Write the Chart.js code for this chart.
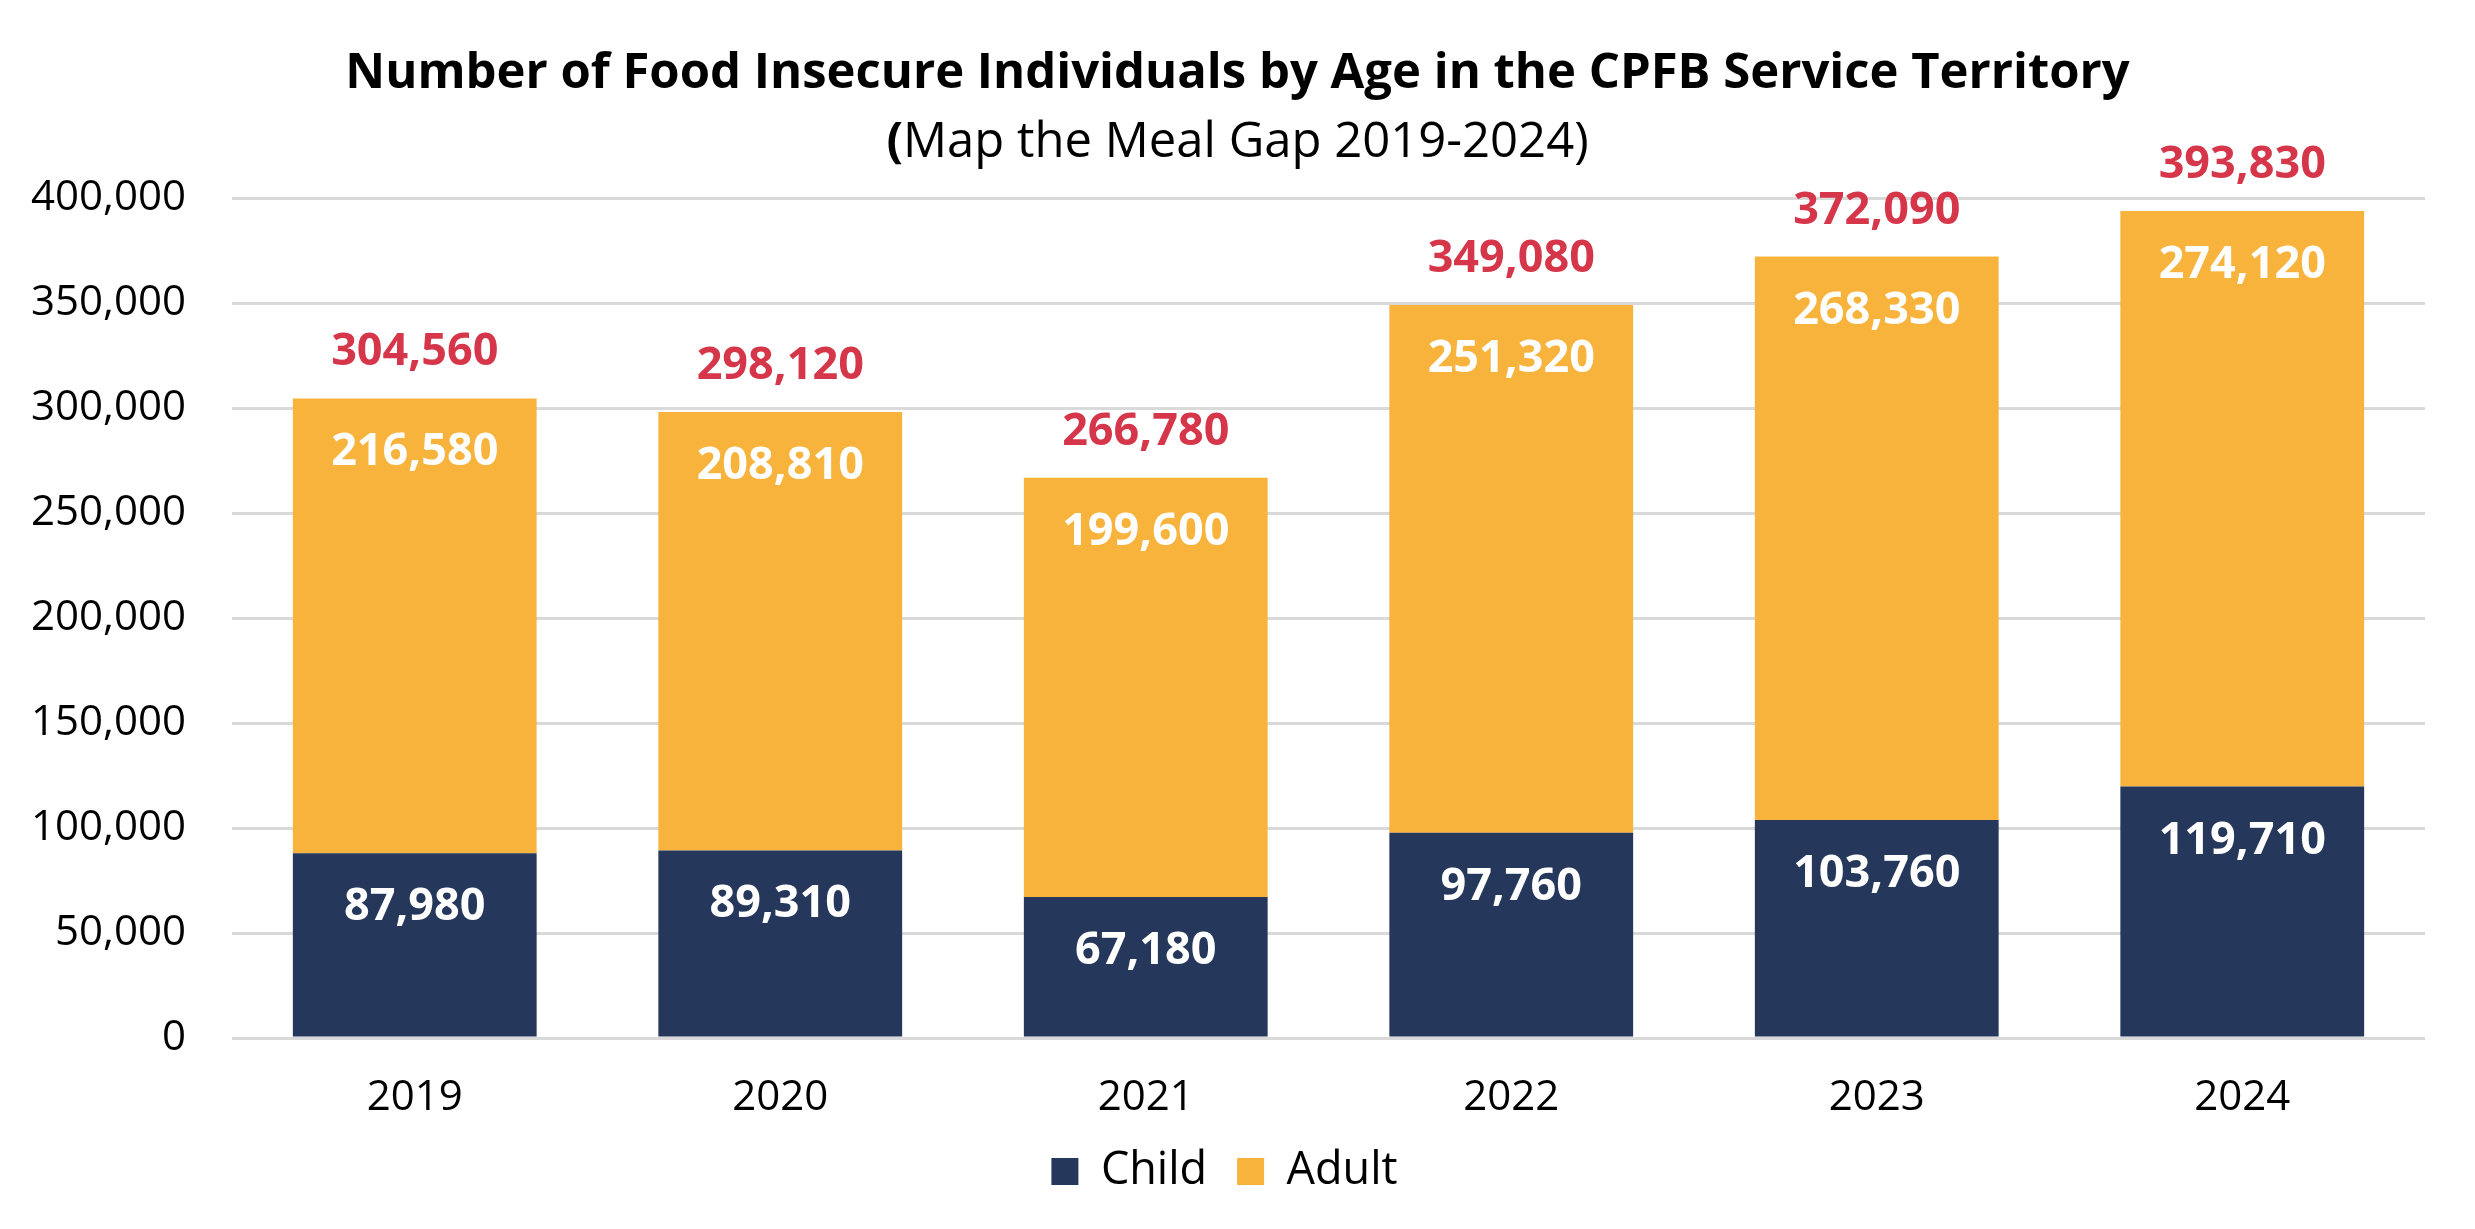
<!DOCTYPE html>
<html>
<head>
    <meta charset="utf-8">
    <title>Number of Food Insecure Individuals by Age in the CPFB Service Territory</title>
    <script src="https://cdn.jsdelivr.net/npm/chart.js"></script>
    <style>
        html, body {
            margin: 0;
            padding: 0;
            background: #ffffff;
        }
        .chart-container {
            width: 2475px;
            height: 1229px;
        }
    </style>
</head>
<body>
    <div class="chart-container">
        <canvas id="mealGapChart"></canvas>
    </div>

    <script>
        // Chart data (Map the Meal Gap 2019-2024)
        const years = ['2019', '2020', '2021', '2022', '2023', '2024'];
        const childValues = [87980, 89310, 67180, 97760, 103760, 119710];
        const adultValues = [216580, 208810, 199600, 251320, 268330, 274120];
        const yTicks = [0, 50000, 100000, 150000, 200000, 250000, 300000, 350000, 400000];

        const titleText = 'Number of Food Insecure Individuals by Age in the CPFB Service Territory';
        const subtitleText = 'Map the Meal Gap 2019-2024)';

        const NAVY = '#25375B';
        const ORANGE = '#F8B33D';
        const RED = '#D6364A';
        const GRID = '#D9D9D9';
        const FONT = "'Open Sans', sans-serif";

        const fmt = v => v.toLocaleString('en-US');

        // Titles drawn on top of the canvas (the opening bracket is bold in the original)
        const titlePlugin = {
            id: 'titles',
            afterDraw(chart) {
                const ctx = chart.ctx;
                const cx = chart.width / 2;
                ctx.save();
                ctx.fillStyle = '#000';
                ctx.textBaseline = 'alphabetic';
                ctx.textAlign = 'center';
                ctx.font = `bold 49px ${FONT}`;
                ctx.fillText(titleText, cx, 88);

                ctx.font = `bold 49px ${FONT}`;
                const w1 = ctx.measureText('(').width;
                ctx.font = `49px ${FONT}`;
                const w2 = ctx.measureText(subtitleText).width;
                const left = cx - (w1 + w2) / 2;
                ctx.textAlign = 'left';
                ctx.font = `bold 49px ${FONT}`;
                ctx.fillText('(', left, 157);
                ctx.font = `49px ${FONT}`;
                ctx.fillText(subtitleText, left + w1, 157);
                ctx.restore();
            }
        };

        // Value labels inside the bars and totals above them
        const valueLabels = {
            id: 'valueLabels',
            afterDatasetsDraw(chart) {
                const ctx = chart.ctx;
                ctx.save();
                ctx.textAlign = 'center';
                ctx.textBaseline = 'alphabetic';
                ctx.font = `bold 45px ${FONT}`;
                chart.data.datasets.forEach((ds, i) => {
                    const meta = chart.getDatasetMeta(i);
                    meta.data.forEach((bar, j) => {
                        ctx.fillStyle = '#ffffff';
                        ctx.fillText(fmt(ds.data[j]), bar.x, bar.y + 67);
                    });
                });
                const topMeta = chart.getDatasetMeta(chart.data.datasets.length - 1);
                topMeta.data.forEach((bar, j) => {
                    const total = childValues[j] + adultValues[j];
                    ctx.fillStyle = RED;
                    ctx.fillText(fmt(total), bar.x, bar.y - 33);
                });
                ctx.restore();
            }
        };

        Chart.defaults.font.family = FONT;
        Chart.defaults.color = '#000';

        new Chart(document.getElementById('mealGapChart'), {
            type: 'bar',
            data: {
                labels: years,
                datasets: [
                    {
                        label: 'Child',
                        data: childValues,
                        backgroundColor: NAVY,
                        borderWidth: 0
                    },
                    {
                        label: 'Adult',
                        data: adultValues,
                        backgroundColor: ORANGE,
                        borderWidth: 0
                    }
                ]
            },
            options: {
                responsive: true,
                maintainAspectRatio: false,
                animation: false,
                devicePixelRatio: 1,
                layout: {
                    padding: { top: 198, right: 50, bottom: 25, left: 24 }
                },
                categoryPercentage: 0.667,
                barPercentage: 1,
                plugins: {
                    title: { display: false },
                    tooltip: { enabled: false },
                    legend: {
                        position: 'bottom',
                        labels: {
                            boxWidth: 27,
                            boxHeight: 27,
                            padding: 30,
                            color: '#000',
                            font: { size: 45 }
                        }
                    }
                },
                scales: {
                    x: {
                        stacked: true,
                        afterFit: s => { s.height = 81; },
                        grid: { display: false },
                        border: { display: false },
                        ticks: {
                            padding: 27,
                            font: { size: 42 }
                        }
                    },
                    y: {
                        stacked: true,
                        min: 0,
                        max: 400000,
                        afterFit: s => { s.width = 208; },
                        afterBuildTicks: s => { s.ticks = yTicks.map(v => ({ value: v })); },
                        grid: {
                            color: GRID,
                            lineWidth: 3,
                            drawTicks: false
                        },
                        border: { display: false },
                        ticks: {
                            padding: 46,
                            font: { size: 42 },
                            callback: v => fmt(v)
                        }
                    }
                }
            },
            plugins: [titlePlugin, valueLabels]
        });
    </script>
</body>
</html>
